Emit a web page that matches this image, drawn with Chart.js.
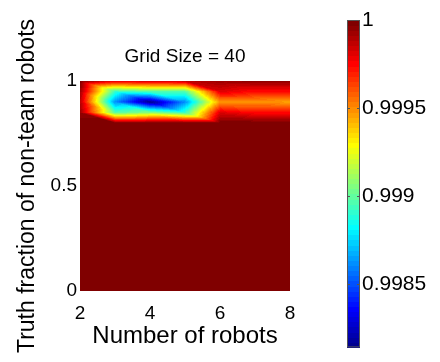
<!DOCTYPE html>
<html><head><meta charset="utf-8">
<script src="https://cdn.jsdelivr.net/npm/chart.js@4.4.0/dist/chart.umd.min.js"></script>
<style>
html,body{margin:0;padding:0;background:#fff;}
#wrap{position:relative;width:440px;height:362px;overflow:hidden;}
#main{position:absolute;left:0;top:0;}
#cbar{position:absolute;left:300px;top:0;}
</style></head><body>
<div id="wrap"><canvas id="main" width="440" height="362"></canvas><canvas id="cbar" width="140" height="362"></canvas></div>
<script>
// ---- data ----
const robots = [2, 3, 4, 5, 6, 7, 8];
const truthFractions = [0, 0.05, 0.1, 0.15, 0.2, 0.25, 0.3, 0.35, 0.4, 0.45, 0.5,
                        0.55, 0.6, 0.65, 0.7, 0.75, 0.8, 0.85, 0.9, 0.95, 1.0];
// one row per truth fraction (bottom to top), one column per robot count
const accuracy = [
  [1, 1, 1, 1, 1, 1, 1],
  [1, 1, 1, 1, 1, 1, 1],
  [1, 1, 1, 1, 1, 1, 1],
  [1, 1, 1, 1, 1, 1, 1],
  [1, 1, 1, 1, 1, 1, 1],
  [1, 1, 1, 1, 1, 1, 1],
  [1, 1, 1, 1, 1, 1, 1],
  [1, 1, 1, 1, 1, 1, 1],
  [1, 1, 1, 1, 1, 1, 1],
  [1, 1, 1, 1, 1, 1, 1],
  [1, 1, 1, 1, 1, 1, 1],
  [1, 1, 1, 1, 1, 1, 1],
  [1, 1, 1, 1, 1, 1, 1],
  [1, 1, 1, 1, 1, 1, 1],
  [1, 1, 1, 1, 1, 1, 1],
  [1, 1, 1, 1, 1, 1, 1],
  [1, 1, 1, 1, 1, 1, 1],
  [0.99994, 0.99898, 0.99907, 0.99892, 0.99981, 0.99974, 0.99974],
  [0.99989, 0.99862, 0.99814, 0.99861, 0.99948, 0.99948, 0.99946],
  [0.99993, 0.99892, 0.99898, 0.99898, 0.99981, 0.99974, 0.99974],
  [1.0, 0.99981, 0.99985, 0.99987, 0.99994, 0.99996, 0.99996]
];
const xTicks = [2, 4, 6, 8];
const yTicks = [0, 0.5, 1];
const cbarTicks = [0.9985, 0.999, 0.9995, 1];
const cbarLimits = [0.99814, 1];
const titleText = 'Grid Size = 40';
const xTitle = 'Number of robots';
const yTitle = 'Truth fraction of non-team robots';

const FONT = "'Liberation Sans', Arial, Helvetica, sans-serif";

// MATLAB jet(64)
function jetMap(m){
  const n = Math.ceil(m/4);
  const u = [];
  for(let i=1;i<=n;i++) u.push(i/n);
  for(let i=1;i<n;i++) u.push(1);
  for(let i=n;i>=1;i--) u.push(i/n);
  const off = Math.ceil(n/2) - (m%4===1?1:0);
  const J = Array.from({length:m},()=>[0,0,0]);
  for(let k=0;k<u.length;k++){
    const g = off + k + 1, r = g + n, b = g - n;
    if (r>=1 && r<=m) J[r-1][0]=u[k];
    if (g>=1 && g<=m) J[g-1][1]=u[k];
    if (b>=1 && b<=m) J[b-1][2]=u[k];
  }
  return J;
}
const JET = jetMap(64);
function colorIndex(v){
  let i = Math.floor((v - cbarLimits[0])/(cbarLimits[1]-cbarLimits[0])*64);
  return Math.max(0, Math.min(63, i));
}
function findCell(arr, v){
  for(let i=0;i<arr.length-1;i++){ if (v <= arr[i+1]) return i; }
  return arr.length-2;
}
// piecewise-linear interpolation on triangles (cells split along the anti-diagonal)
function interp(xv, yv){
  const i = findCell(robots, xv), j = findCell(truthFractions, yv);
  let u = (xv - robots[i])/(robots[i+1]-robots[i]);
  let v = (yv - truthFractions[j])/(truthFractions[j+1]-truthFractions[j]);
  u = Math.max(0,Math.min(1,u)); v = Math.max(0,Math.min(1,v));
  const a = accuracy[j][i], b = accuracy[j][i+1], c = accuracy[j+1][i], d = accuracy[j+1][i+1];
  if (u + v <= 1) return a + u*(b-a) + v*(c-a);
  return d + (1-u)*(c-d) + (1-v)*(b-d);
}

const heatPlugin = {
  id: 'heat',
  beforeDatasetsDraw(chart){
    const {ctx, chartArea:a, scales:{x, y}} = chart;
    const w = Math.round(a.right - a.left), h = Math.round(a.bottom - a.top);
    const off = document.createElement('canvas'); off.width = w; off.height = h;
    const octx = off.getContext('2d');
    const img = octx.createImageData(w, h);
    for(let py=0; py<h; py++){
      const yv = y.getValueForPixel(a.top + py + 0.5);
      for(let px=0; px<w; px++){
        const xv = x.getValueForPixel(a.left + px + 0.5);
        const c = JET[colorIndex(interp(xv, yv))];
        const k = (py*w + px)*4;
        img.data[k] = Math.round(c[0]*255);
        img.data[k+1] = Math.round(c[1]*255);
        img.data[k+2] = Math.round(c[2]*255);
        img.data[k+3] = 255;
      }
    }
    octx.putImageData(img, 0, 0);
    ctx.drawImage(off, Math.round(a.left), Math.round(a.top));
  }
};

const gridPoints = [];
truthFractions.forEach((yv, j) => robots.forEach((xv, i) => gridPoints.push({x: xv, y: yv, v: accuracy[j][i]})));

new Chart(document.getElementById('main'), {
  type: 'scatter',
  data: { datasets: [{ data: gridPoints, pointRadius: 0, showLine: false }] },
  options: {
    responsive: false, animation: false, devicePixelRatio: 1,
    layout: { padding: { left: 0, right: 150, top: 0, bottom: 0 } },
    plugins: {
      legend: { display: false }, tooltip: { enabled: false },
      title: { display: true, text: titleText, fullSize: false, color: '#000',
        font: { family: FONT, size: 19, weight: 'normal' }, padding: { top: 45.6, bottom: 12.6 } }
    },
    scales: {
      x: {
        type: 'linear', min: 2, max: 8,
        afterBuildTicks: s => { s.ticks = xTicks.map(v => ({ value: v })); },
        ticks: { color: '#000', padding: 11, maxRotation: 0, autoSkip: false, font: { family: FONT, size: 19 }, callback: v => String(v) },
        grid: { display: false, drawTicks: false }, border: { display: false },
        title: { display: true, text: xTitle, color: '#000', font: { family: FONT, size: 24 }, padding: { top: 0, bottom: 11 } },
        afterFit: s => { s.height = 71; }
      },
      y: {
        type: 'linear', min: 0, max: 1,
        afterBuildTicks: s => { s.ticks = yTicks.map(v => ({ value: v })); },
        ticks: { color: '#000', padding: 3, autoSkip: false, font: { family: FONT, size: 19 }, callback: v => String(v) },
        grid: { display: false, drawTicks: false }, border: { display: false },
        title: { display: true, text: yTitle, color: '#000', font: { family: FONT, size: 23 }, padding: { top: 14, bottom: 0 } },
        afterFit: s => { s.width = 80; }
      }
    }
  },
  plugins: [heatPlugin]
});

const cbarPlugin = {
  id: 'cbarFill',
  beforeDatasetsDraw(chart){
    const {ctx, chartArea:a, scales:{y}} = chart;
    const lo = cbarLimits[0], hi = cbarLimits[1];
    for(let k=0;k<64;k++){
      const y0 = y.getPixelForValue(lo + k*(hi-lo)/64);
      const y1 = y.getPixelForValue(lo + (k+1)*(hi-lo)/64);
      const c = JET[k];
      ctx.fillStyle = `rgb(${Math.round(c[0]*255)},${Math.round(c[1]*255)},${Math.round(c[2]*255)})`;
      ctx.fillRect(a.left, Math.floor(y1), a.right - a.left, Math.ceil(y0) - Math.floor(y1));
    }
    ctx.save();
    ctx.strokeStyle = '#555'; ctx.lineWidth = 1;
    ctx.strokeRect(a.left + 0.5, a.top + 0.5, a.right - a.left - 1, a.bottom - a.top - 1);
    cbarTicks.forEach(t => {
      const py = Math.round(y.getPixelForValue(t)) + 0.5;
      ctx.beginPath();
      ctx.moveTo(a.left, py); ctx.lineTo(a.left + 3, py);
      ctx.moveTo(a.right - 3, py); ctx.lineTo(a.right, py);
      ctx.stroke();
    });
    ctx.restore();
  }
};

new Chart(document.getElementById('cbar'), {
  type: 'scatter',
  data: { datasets: [{ data: [], pointRadius: 0 }] },
  options: {
    responsive: false, animation: false, devicePixelRatio: 1,
    layout: { padding: { left: 47, right: 0, top: 20, bottom: 13 } },
    plugins: { legend: { display: false }, tooltip: { enabled: false } },
    scales: {
      x: { type: 'linear', display: false, min: 0, max: 1 },
      y: {
        type: 'linear', position: 'right', min: cbarLimits[0], max: cbarLimits[1],
        afterBuildTicks: s => { s.ticks = cbarTicks.map(v => ({ value: v })); },
        ticks: { color: '#000', padding: 2, autoSkip: false, font: { family: FONT, size: 21 }, callback: v => String(v) },
        grid: { display: false, drawTicks: false }, border: { display: false },
        afterFit: s => { s.width = 80; }
      }
    }
  },
  plugins: [cbarPlugin]
});
</script>
</body></html>
